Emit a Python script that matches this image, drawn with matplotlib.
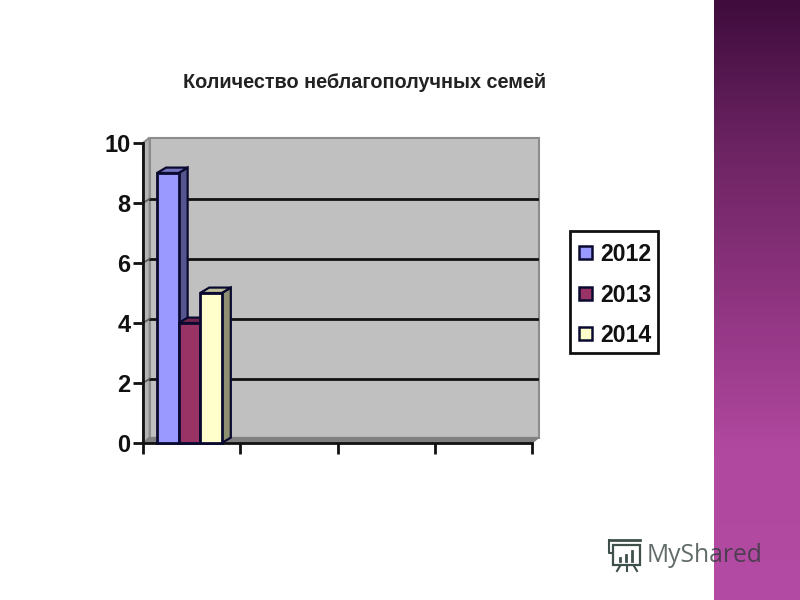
import numpy as np
import matplotlib
matplotlib.use('Agg')
import matplotlib.pyplot as plt
from matplotlib.patches import Polygon, Rectangle

title = 'Количество неблагополучных семей'
years = ['2012', '2013', '2014']
values = [9, 4, 5]
front_colors = ['#9999ff', '#993366', '#ffffcc']
side_colors = ['#55558f', '#5a1e3c', '#8f8f72']
top_colors = ['#7373bf', '#732650', '#bfbf99']
y_ticks = [0, 2, 4, 6, 8, 10]
n_groups = 4

plt.rcParams['font.family'] = ['Liberation Sans', 'DejaVu Sans']

W, H = 800, 600
fig = plt.figure(figsize=(8, 6), dpi=100)

# purple band on the right
bg = fig.add_axes([0, 0, 1, 1])
bg.set_xlim(0, W)
bg.set_ylim(H, 0)
bg.axis('off')
grad = np.linspace(0, 1, 256).reshape(-1, 1)
cmap = matplotlib.colors.LinearSegmentedColormap.from_list(
    'band', ['#3f0c3d', '#6d2463', '#8f3480', '#b0489f', '#b34aa3'])
bg.imshow(grad, extent=[714, 800, 600, 0], aspect='auto', cmap=cmap, zorder=1)
bg.set_xlim(0, W)
bg.set_ylim(H, 0)

# main axes is the front plane of the fake 3d box
ax = fig.add_axes([143 / W, 1 - 443 / H, (532 - 143) / W, (443 - 143) / H])
ax.set_xlim(0, n_groups)
ax.set_ylim(0, 10)
ax.patch.set_alpha(0)
for s in ['top', 'right']:
    ax.spines[s].set_visible(False)
for s in ['left', 'bottom']:
    ax.spines[s].set_linewidth(2)
    ax.spines[s].set_color('#111111')

dx = 0.068   # wall depth in x (data units)
dy = 0.18    # wall depth in y (data units)
bar_dx = 0.093
bar_dy = 0.18

# walls
ax.add_patch(Polygon([(dx, dy), (n_groups + dx, dy), (n_groups + dx, 10 + dy), (dx, 10 + dy)],
                     closed=True, fc='#c0c0c0', ec='#8c8c8c', lw=1.5, zorder=1, clip_on=False))
ax.add_patch(Polygon([(0, 0), (dx, dy), (dx, 10 + dy), (0, 10)],
                     closed=True, fc='#b4b4b4', ec='#8c8c8c', lw=1.5, zorder=1, clip_on=False))
ax.add_patch(Polygon([(0, 0), (n_groups, 0), (n_groups + dx, dy), (dx, dy)],
                     closed=True, fc='#808080', ec='#808080', lw=1, zorder=1, clip_on=False))

for t in y_ticks[1:-1]:
    ax.plot([dx, n_groups + dx - 0.02], [t + 0.14, t + 0.14], color='#111111', lw=2, zorder=2, clip_on=False)
    ax.plot([0, dx], [t, t + 0.14], color='#555555', lw=1.2, zorder=2, clip_on=False)

# bars
bar_w = 0.222
start = 0.144
for i, v in enumerate(values):
    x0 = start + i * bar_w
    x1 = x0 + bar_w
    ax.add_patch(Polygon([(x1, 0), (x1 + bar_dx, bar_dy), (x1 + bar_dx, v + bar_dy), (x1, v)],
                         closed=True, fc=side_colors[i], ec='#0a0a30', lw=1.6, zorder=3 + i, clip_on=False))
    ax.add_patch(Polygon([(x0, v), (x1, v), (x1 + bar_dx, v + bar_dy), (x0 + bar_dx, v + bar_dy)],
                         closed=True, fc=top_colors[i], ec='#0a0a30', lw=1.6, zorder=3 + i, clip_on=False))
    ax.add_patch(Rectangle((x0, 0), bar_w, v, fc=front_colors[i], ec='#0a0a30', lw=2,
                           zorder=3 + i, clip_on=False))

ax.set_xticks(range(n_groups + 1))
ax.set_xticklabels([])
ax.set_yticks(y_ticks)
ax.tick_params(axis='y', length=7, width=2, color='#111111', pad=2, labelsize=17)
ax.tick_params(axis='x', length=8, width=2, color='#111111', direction='out')
for lab in ax.get_yticklabels():
    lab.set_fontweight('bold')
    lab.set_color('#111111')

fig.text(365 / W, 1 - 82.5 / H, title, ha='center', va='center', fontsize=14.3,
         fontweight='bold', color='#222222')

# legend box
bg.add_patch(Rectangle((570, 231), 88, 122, fc='white', ec='#111111', lw=2, zorder=2))
for i, y in enumerate(years):
    cy = 253 + i * 40.5
    bg.add_patch(Rectangle((579, cy - 7), 13, 13, fc=front_colors[i], ec='#0a0a30', lw=1.8, zorder=3))
    bg.text(600, cy + 1.5, y, fontsize=16.6, fontweight='bold', color='#111111',
            va='center', ha='left', zorder=3)

# watermark
bg.text(647, 555, 'MyShared', fontsize=17.7, color='#2c3a38', alpha=0.75, va='center',
        ha='left', family='Open Sans', zorder=4)
logo = '#3f4f4c'
bg.add_patch(Rectangle((613, 545), 27, 20, fc='none', ec=logo, lw=1.6, zorder=4))
bg.plot([609, 640], [540, 540], color=logo, lw=2, zorder=4)
bg.plot([609, 609, 613], [540, 553, 553], color=logo, lw=1.5, zorder=4)
for x, h in zip([620, 626, 632], [3, 6, 10]):
    bg.plot([x, x], [561, 561 - h], color=logo, lw=2, zorder=4)
for x0, x1 in zip([620, 627, 634], [617, 627, 637]):
    bg.plot([x0, x1], [566, 571], color=logo, lw=1.5, zorder=4)

fig.savefig('out.png', dpi=100)
